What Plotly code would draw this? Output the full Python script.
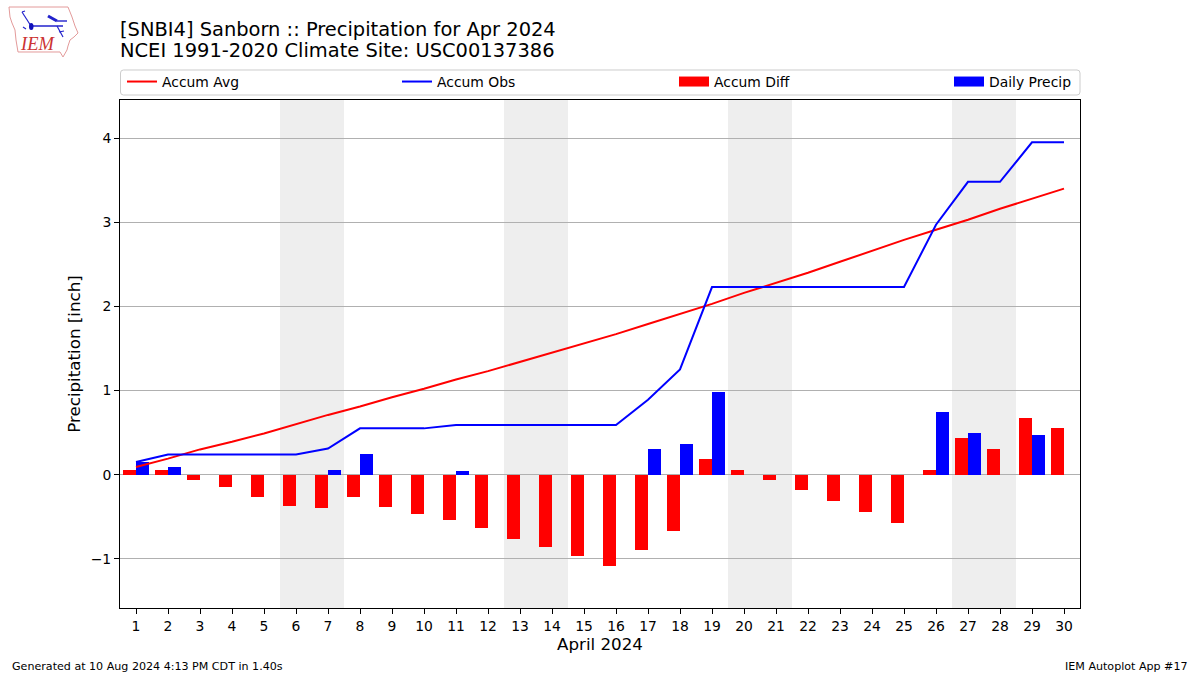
import plotly.graph_objects as go

days = list(range(1, 31))
accum_avg = [0.09, 0.19, 0.30, 0.39, 0.49, 0.60, 0.71, 0.81, 0.92, 1.02, 1.13, 1.23, 1.34, 1.45, 1.56, 1.67,
             1.79, 1.91, 2.03, 2.16, 2.28, 2.40, 2.53, 2.66, 2.79, 2.91, 3.03, 3.16, 3.28, 3.40]
accum_obs = [0.15, 0.24, 0.24, 0.24, 0.24, 0.24, 0.31, 0.55, 0.55, 0.55, 0.59, 0.59, 0.59, 0.59, 0.59, 0.59,
             0.89, 1.25, 2.23, 2.23, 2.23, 2.23, 2.23, 2.23, 2.23, 2.97, 3.48, 3.48, 3.95, 3.95]
accum_diff = [0.06, 0.05, -0.06, -0.15, -0.26, -0.37, -0.40, -0.26, -0.38, -0.47, -0.54, -0.64, -0.76, -0.86,
              -0.97, -1.08, -0.90, -0.67, 0.19, 0.06, -0.06, -0.18, -0.31, -0.44, -0.57, 0.06, 0.44, 0.31, 0.67, 0.55]
daily_precip = [0.15, 0.09, 0, 0, 0, 0, 0.06, 0.24, 0, 0, 0.04, 0, 0, 0, 0, 0,
                0.30, 0.36, 0.98, 0, 0, 0, 0, 0, 0, 0.74, 0.50, 0, 0.47, 0]
weekends = [(5.5, 7.5), (12.5, 14.5), (19.5, 21.5), (26.5, 28.5)]
yticks = [-1, 0, 1, 2, 3, 4]
yticklabels = ["\u22121", "0", "1", "2", "3", "4"]
title_lines = ["[SNBI4] Sanborn :: Precipitation for Apr 2024", "NCEI 1991-2020 Climate Site: USC00137386"]

W, H = 1200, 675
L, R, T, B = 120, 1080, 100, 608
FONT = "DejaVu Sans"


def px(x):
    return (x - L) / (R - L)


def py(y):
    return (B - y) / (B - T)


def pts(points, close=False):
    d = "M " + " L ".join(f"{px(x):.5f},{py(y):.5f}" for x, y in points)
    return d + (" Z" if close else "")


fig = go.Figure()
fig.add_trace(go.Scatter(x=days, y=accum_avg, mode="lines", name="Accum Avg", legend="legend",
                         line=dict(color="#ff0000", width=2)))
fig.add_trace(go.Scatter(x=days, y=accum_obs, mode="lines", name="Accum Obs", legend="legend2",
                         line=dict(color="#0000ff", width=2)))
fig.add_trace(go.Bar(x=days, y=accum_diff, name="Accum Diff", showlegend=False,
                     marker=dict(color="#ff0000", line_width=0), width=0.4, offset=-0.4))
fig.add_trace(go.Bar(x=days, y=daily_precip, name="Daily Precip", showlegend=False,
                     marker=dict(color="#0000ff", line_width=0), width=0.4, offset=0))
# legend keys for the bars: wide swatches
fig.add_trace(go.Scatter(x=[None], y=[None], mode="lines", name="Accum Diff", legend="legend3",
                         line=dict(color="#ff0000", width=10)))
fig.add_trace(go.Scatter(x=[None], y=[None], mode="lines", name="Daily Precip", legend="legend4",
                         line=dict(color="#0000ff", width=10)))

shapes = [dict(type="rect", xref="x", yref="paper", x0=a, x1=b, y0=0, y1=1,
               fillcolor="#eeeeee", line_width=0, layer="below") for a, b in weekends]

# legend frame
fx0, fx1, fy0, fy1, rr = 120.5, 1080, 70, 95, 3
frame = (f"M {px(fx0 + rr):.5f},{py(fy0):.5f} L {px(fx1 - rr):.5f},{py(fy0):.5f} "
         f"Q {px(fx1):.5f},{py(fy0):.5f} {px(fx1):.5f},{py(fy0 + rr):.5f} "
         f"L {px(fx1):.5f},{py(fy1 - rr):.5f} Q {px(fx1):.5f},{py(fy1):.5f} {px(fx1 - rr):.5f},{py(fy1):.5f} "
         f"L {px(fx0 + rr):.5f},{py(fy1):.5f} Q {px(fx0):.5f},{py(fy1):.5f} {px(fx0):.5f},{py(fy1 - rr):.5f} "
         f"L {px(fx0):.5f},{py(fy0 + rr):.5f} Q {px(fx0):.5f},{py(fy0):.5f} {px(fx0 + rr):.5f},{py(fy0):.5f} Z")
shapes.append(dict(type="path", xref="paper", yref="paper", path=frame,
                   line=dict(color="#cccccc", width=1), fillcolor="white"))

# IEM logo
iowa = [(9, 7), (68, 7), (70, 12), (72, 17), (75, 26), (78, 33), (74, 37), (70, 40), (68, 46), (67, 50),
        (63, 57), (60, 52), (18, 52), (16, 40), (15, 30), (12, 23), (10, 17)]
shapes.append(dict(type="path", xref="paper", yref="paper", path=pts(iowa, True),
                   line=dict(color="#e39a9a", width=1), fillcolor="rgba(0,0,0,0)"))
for seg, w in [([(31, 26), (63, 26)], 1.6), ([(48, 16), (57, 21)], 3), ([(57, 21), (67, 21)], 1.4),
               ([(22, 12), (31, 26)], 1.2), ([(57, 26), (63, 37)], 1.2), ([(59, 32), (64, 31)], 1.2),
               ([(22, 12), (25, 11)], 1.2), ([(23, 27), (26, 29)], 1.2)]:
    shapes.append(dict(type="path", xref="paper", yref="paper", path=pts(seg),
                       line=dict(color="#2222cc", width=w)))
shapes.append(dict(type="circle", xref="paper", yref="paper", x0=px(29), x1=px(33.5), y0=py(30), y1=py(23),
                   fillcolor="#1111bb", line_width=0))

annotations = [
    dict(text=title_lines[0], xref="paper", yref="paper", x=px(118.5), y=py(29), xanchor="left", yanchor="middle",
         showarrow=False, borderpad=0, font=dict(size=19.45, color="black", family=FONT)),
    dict(text=title_lines[1], xref="paper", yref="paper", x=px(118.5), y=py(50.5), xanchor="left", yanchor="middle",
         showarrow=False, borderpad=0, font=dict(size=19.45, color="black", family=FONT)),
    dict(text="Generated at 10 Aug 2024 4:13 PM CDT in 1.40s", xref="paper", yref="paper", x=px(10), y=py(666.5),
         xanchor="left", yanchor="middle", showarrow=False, font=dict(size=11.1, color="black", family=FONT)),
    dict(text="IEM Autoplot App #17", xref="paper", yref="paper", x=px(1190), y=py(666.5),
         xanchor="right", yanchor="middle", showarrow=False, font=dict(size=11.1, color="black", family=FONT)),
    dict(text="<i>IEM</i>", xref="paper", yref="paper", x=px(37.5), y=py(44), xanchor="center", yanchor="middle",
         showarrow=False, font=dict(size=18.5, color="#cc3333", family="Liberation Serif")),
]


def legend_at(left):
    return dict(orientation="h", x=px(left), xanchor="left", y=py(82), yanchor="middle",
                borderwidth=0, bgcolor="rgba(0,0,0,0)", itemwidth=30,
                font=dict(size=13.9, family=FONT, color="black"))


fig.update_layout(
    width=W, height=H, autosize=False,
    margin=dict(l=L, r=W - R, t=T, b=H - B, pad=0),
    paper_bgcolor="white", plot_bgcolor="white",
    font=dict(family=FONT, color="black", size=14),
    barmode="overlay",
    bargap=0,
    showlegend=True,
    legend=legend_at(122),
    legend2=legend_at(397),
    legend3=legend_at(674),
    legend4=legend_at(949),
    xaxis=dict(range=[0.5, 30.5], tickmode="array", tickvals=days, ticktext=[str(d) for d in days],
               title=dict(text="April 2024", font=dict(size=16.7, family=FONT), standoff=5),
               showgrid=False, zeroline=False, showline=True, linecolor="black", linewidth=1, mirror=True,
               ticks="outside", ticklen=5, tickwidth=1, tickcolor="black", tickfont=dict(size=13.9, family=FONT)),
    yaxis=dict(range=[-1.585, 4.453], tickmode="array", tickvals=yticks, ticktext=yticklabels,
               title=dict(text="Precipitation [inch]", font=dict(size=16.7, family=FONT), standoff=5),
               showgrid=True, gridcolor="#b0b0b0", gridwidth=1, zeroline=False,
               showline=True, linecolor="black", linewidth=1, mirror=True,
               ticks="outside", ticklen=5, tickwidth=1, tickcolor="black", tickfont=dict(size=13.9, family=FONT)),
    shapes=shapes,
    annotations=annotations,
)

fig.write_html("out.html", config=dict(displayModeBar=False),
               post_script="document.body.style.margin='0';window.dispatchEvent(new Event('resize'));")
